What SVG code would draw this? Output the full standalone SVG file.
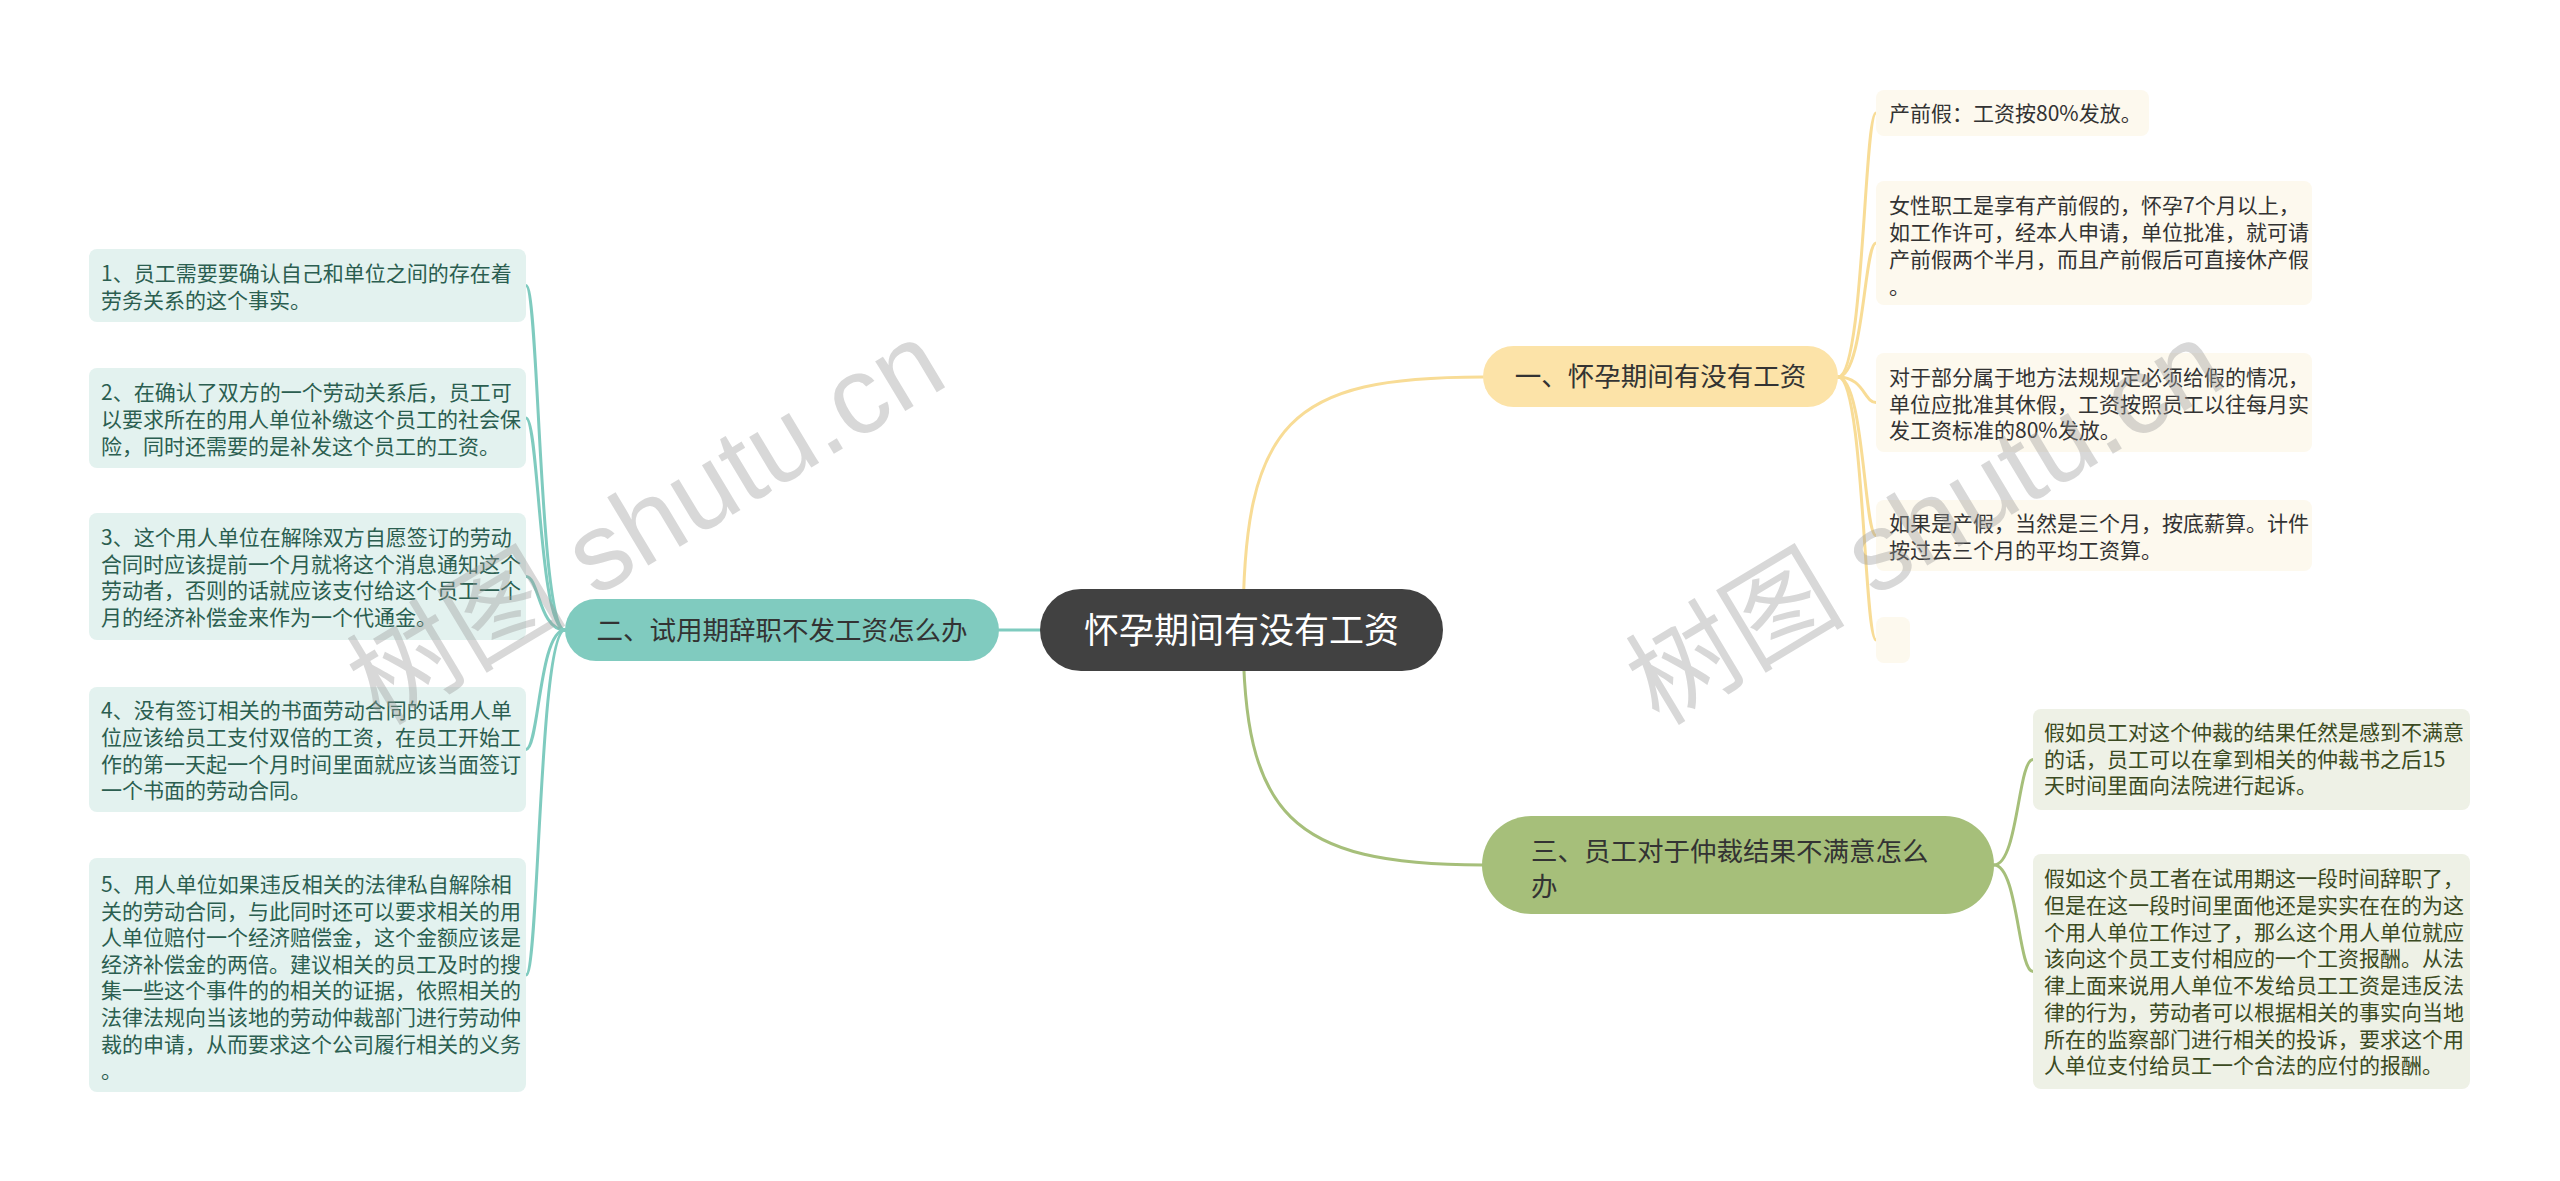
<svg xmlns="http://www.w3.org/2000/svg" width="2560" height="1181" viewBox="0 0 2560 1181">
<style>
text{font-family:"Noto Sans CJK SC","Noto Sans",sans-serif;}
.c{fill:none;stroke-width:3;stroke-linecap:round}
.ct{stroke:#7fcbbf}.cy{stroke:#f8dc96}.cg{stroke:#a6bf7a}
.lt{fill:#e3f2ef}.ly{fill:#fdf9ee}.lg{fill:#eef1e6}
.tl{font-size:21px;fill:#2b5e50}
.ty{font-size:21px;fill:#333}
.tg{font-size:21px;fill:#3b4a22}
.b{font-size:26.5px;fill:#333}
.wm{font-family:"Liberation Sans","Noto Sans CJK SC",sans-serif;font-size:110px;fill:#9a9a9a;opacity:0.38}
</style>
<rect width="2560" height="1181" fill="#fff"/>
<g id="connectors">
<path class="c ct" d="M999,630 L1040,630"/>
<path class="c cy" d="M1243,630 C1243,420 1290,377 1483,377"/>
<path class="c cg" d="M1243,630 C1243,815 1290,865 1483,865"/>
<path class="c ct" d="M565,630 C539,630 539,285.5 526,285.5"/>
<path class="c ct" d="M565,630 C539,630 539,418 526,418"/>
<path class="c ct" d="M565,630 C539,630 539,576.5 526,576.5"/>
<path class="c ct" d="M565,630 C539,630 539,749.5 526,749.5"/>
<path class="c ct" d="M565,630 C539,630 539,975 526,975"/>
<path class="c cy" d="M1838,377 C1864,377 1864,113 1876,113"/>
<path class="c cy" d="M1838,377 C1864,377 1864,243 1876,243"/>
<path class="c cy" d="M1838,377 C1864,377 1864,402.5 1876,402.5"/>
<path class="c cy" d="M1838,377 C1864,377 1864,535.5 1876,535.5"/>
<path class="c cy" d="M1838,377 C1864,377 1864,640 1876,640"/>
<path class="c cg" d="M1994,865 C2018,865 2018,759.5 2033,759.5"/>
<path class="c cg" d="M1994,865 C2018,865 2018,971.5 2033,971.5"/>
</g>
<g id="root">
<rect x="1040" y="589" width="403" height="82" rx="41" fill="#414141"/>
<text x="1241.5" y="643" text-anchor="middle" font-size="35" fill="#fff">怀孕期间有没有工资</text>
</g>
<g id="b1">
<rect x="1483" y="346" width="355" height="61" rx="30.5" fill="#fce3a8"/>
<text class="b" x="1660.5" y="386" text-anchor="middle">一、怀孕期间有没有工资</text>
</g>
<g id="b2">
<rect x="565" y="599" width="434" height="62" rx="31" fill="#80cbbf"/>
<text class="b" x="782" y="639.5" text-anchor="middle">二、试用期辞职不发工资怎么办</text>
</g>
<g id="b3">
<rect x="1482" y="816" width="512" height="98" rx="49" fill="#a6bf7a"/>
<text class="b"><tspan x="1531" y="861">三、员工对于仲裁结果不满意怎么</tspan><tspan x="1531" y="896">办</tspan></text>
</g>
<g id="l1">
<rect class="lt" x="89" y="249" width="437" height="73" rx="8"/>
<text class="tl"><tspan x="101" y="281">1、员工需要要确认自己和单位之间的存在着</tspan><tspan x="101" y="308">劳务关系的这个事实。</tspan></text>
</g>
<g id="l2">
<rect class="lt" x="89" y="368" width="437" height="100" rx="8"/>
<text class="tl"><tspan x="101" y="400">2、在确认了双方的一个劳动关系后，员工可</tspan><tspan x="101" y="427">以要求所在的用人单位补缴这个员工的社会保</tspan><tspan x="101" y="454">险，同时还需要的是补发这个员工的工资。</tspan></text>
</g>
<g id="l3">
<rect class="lt" x="89" y="513" width="437" height="127" rx="8"/>
<text class="tl"><tspan x="101" y="545">3、这个用人单位在解除双方自愿签订的劳动</tspan><tspan x="101" y="572">合同时应该提前一个月就将这个消息通知这个</tspan><tspan x="101" y="598">劳动者，否则的话就应该支付给这个员工一个</tspan><tspan x="101" y="625">月的经济补偿金来作为一个代通金。</tspan></text>
</g>
<g id="l4">
<rect class="lt" x="89" y="687" width="437" height="125" rx="8"/>
<text class="tl"><tspan x="101" y="718">4、没有签订相关的书面劳动合同的话用人单</tspan><tspan x="101" y="745">位应该给员工支付双倍的工资，在员工开始工</tspan><tspan x="101" y="772">作的第一天起一个月时间里面就应该当面签订</tspan><tspan x="101" y="798">一个书面的劳动合同。</tspan></text>
</g>
<g id="l5">
<rect class="lt" x="89" y="858" width="437" height="234" rx="8"/>
<text class="tl"><tspan x="101" y="892">5、用人单位如果违反相关的法律私自解除相</tspan><tspan x="101" y="918.6">关的劳动合同，与此同时还可以要求相关的用</tspan><tspan x="101" y="945.2">人单位赔付一个经济赔偿金，这个金额应该是</tspan><tspan x="101" y="971.8">经济补偿金的两倍。建议相关的员工及时的搜</tspan><tspan x="101" y="998.4">集一些这个事件的的相关的证据，依照相关的</tspan><tspan x="101" y="1025">法律法规向当该地的劳动仲裁部门进行劳动仲</tspan><tspan x="101" y="1051.6">裁的申请，从而要求这个公司履行相关的义务</tspan><tspan x="101" y="1078.2">。</tspan></text>
</g>
<g id="r1">
<rect class="ly" x="1876" y="90" width="273" height="46" rx="8"/>
<text class="ty" x="1889" y="121">产前假：工资按80%发放。</text>
</g>
<g id="r2">
<rect class="ly" x="1876" y="181" width="436" height="124" rx="8"/>
<text class="ty"><tspan x="1889" y="213">女性职工是享有产前假的，怀孕7个月以上，</tspan><tspan x="1889" y="240">如工作许可，经本人申请，单位批准，就可请</tspan><tspan x="1889" y="267">产前假两个半月，而且产前假后可直接休产假</tspan><tspan x="1889" y="294">。</tspan></text>
</g>
<g id="r3">
<rect class="ly" x="1876" y="353" width="436" height="99" rx="8"/>
<text class="ty"><tspan x="1889" y="385">对于部分属于地方法规规定必须给假的情况，</tspan><tspan x="1889" y="411.7">单位应批准其休假，工资按照员工以往每月实</tspan><tspan x="1889" y="438.4">发工资标准的80%发放。</tspan></text>
</g>
<g id="r4">
<rect class="ly" x="1876" y="500" width="436" height="71" rx="8"/>
<text class="ty"><tspan x="1889" y="531">如果是产假，当然是三个月，按底薪算。计件</tspan><tspan x="1889" y="557.7">按过去三个月的平均工资算。</tspan></text>
</g>
<g id="r5">
<rect class="ly" x="1876" y="617" width="34" height="46" rx="8"/>
</g>
<g id="g1">
<rect class="lg" x="2033" y="709" width="437" height="101" rx="8"/>
<text class="tg"><tspan x="2044" y="740">假如员工对这个仲裁的结果任然是感到不满意</tspan><tspan x="2044" y="766.7">的话，员工可以在拿到相关的仲裁书之后15</tspan><tspan x="2044" y="793.4">天时间里面向法院进行起诉。</tspan></text>
</g>
<g id="g2">
<rect class="lg" x="2033" y="854" width="437" height="235" rx="8"/>
<text class="tg"><tspan x="2044" y="886">假如这个员工者在试用期这一段时间辞职了，</tspan><tspan x="2044" y="912.8">但是在这一段时间里面他还是实实在在的为这</tspan><tspan x="2044" y="939.5">个用人单位工作过了，那么这个用人单位就应</tspan><tspan x="2044" y="966.3">该向这个员工支付相应的一个工资报酬。从法</tspan><tspan x="2044" y="993">律上面来说用人单位不发给员工工资是违反法</tspan><tspan x="2044" y="1019.8">律的行为，劳动者可以根据相关的事实向当地</tspan><tspan x="2044" y="1046.5">所在的监察部门进行相关的投诉，要求这个用</tspan><tspan x="2044" y="1073.3">人单位支付给员工一个合法的应付的报酬。</tspan></text>
</g>
<g id="watermarks">
<text class="wm" x="648" y="560" text-anchor="middle" transform="rotate(-31 648 526)">树图 shutu.cn</text>
<text class="wm" x="1927" y="560" text-anchor="middle" transform="rotate(-31 1927 526)">树图 shutu.cn</text>
</g>
</svg>
